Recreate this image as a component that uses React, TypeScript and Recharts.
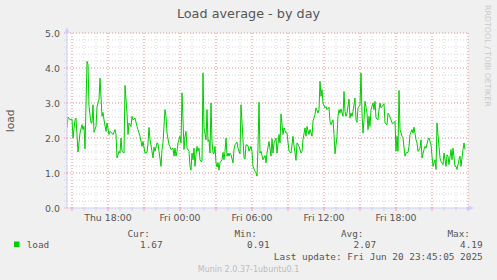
import React from 'react'
import { LineChart, Line, XAxis, YAxis, CartesianGrid, ReferenceLine } from 'recharts'

// sample time in minutes since Thu 00:00, one sample per row entry of load
const times = [
  875, 880, 890, 900, 905, 915, 920, 930, 940, 950,
  955, 960, 965, 975, 980, 985, 995, 1000, 1005, 1010,
  1020, 1025, 1030, 1035, 1040, 1050, 1055, 1060, 1070, 1075,
  1085, 1090, 1100, 1105, 1115, 1120, 1125, 1135, 1140, 1145,
  1150, 1160, 1165, 1175, 1180, 1185, 1195, 1200, 1205, 1215,
  1225, 1230, 1240, 1250, 1255, 1265, 1275, 1280, 1285, 1290,
  1300, 1305, 1310, 1315, 1325, 1330, 1335, 1345, 1350, 1355,
  1365, 1370, 1375, 1385, 1390, 1395, 1405, 1410, 1415, 1420,
  1425, 1430, 1440, 1445, 1450, 1455, 1460, 1465, 1470, 1475,
  1485, 1490, 1495, 1500, 1505, 1510, 1515, 1520, 1525, 1530,
  1535, 1540, 1545, 1550, 1555, 1560, 1570, 1575, 1580, 1585,
  1590, 1595, 1600, 1605, 1610, 1615, 1620, 1625, 1630, 1635,
  1640, 1650, 1655, 1660, 1665, 1670, 1675, 1680, 1685, 1690,
  1695, 1705, 1710, 1715, 1725, 1730, 1735, 1740, 1745, 1755,
  1760, 1765, 1770, 1780, 1785, 1795, 1800, 1805, 1815, 1820,
  1825, 1830, 1835, 1840, 1845, 1850, 1855, 1865, 1870, 1875,
  1885, 1895, 1900, 1905, 1910, 1920, 1925, 1935, 1940, 1945,
  1955, 1960, 1970, 1975, 1985, 1995, 2005, 2010, 2020, 2025,
  2035, 2045, 2050, 2055, 2065, 2070, 2075, 2085, 2090, 2100,
  2105, 2115, 2120, 2130, 2135, 2140, 2145, 2150, 2155, 2165,
  2170, 2175, 2185, 2190, 2195, 2205, 2210, 2215, 2225, 2230,
  2235, 2240, 2245, 2255, 2260, 2265, 2270, 2275, 2285, 2290,
  2295, 2300, 2305, 2315, 2320, 2325, 2330, 2340, 2345, 2350,
  2355, 2360, 2365, 2375, 2380, 2385, 2390, 2395, 2405, 2410,
  2415, 2420, 2430, 2435, 2440, 2445, 2450, 2460, 2465, 2475,
  2480, 2485, 2495, 2500, 2505, 2515, 2520, 2525, 2530, 2535,
  2540, 2550, 2555, 2565, 2570, 2580, 2585, 2590, 2600, 2605,
  2610, 2620, 2625, 2630, 2640, 2645, 2650, 2660, 2665, 2670,
  2680, 2685, 2695, 2700, 2705, 2715, 2720, 2725, 2735, 2740,
  2745, 2755, 2760, 2765, 2770, 2775, 2780, 2785, 2795, 2800,
  2805, 2815, 2820, 2825, 2835, 2840, 2845, 2855, 2860, 2865,
]

const load = [
  2.29, 2.60, 2.52, 2.54, 2.00, 2.52, 2.57, 1.60, 2.14, 2.38,
  2.24, 2.33, 1.69, 4.19, 4.10, 2.90, 2.43, 2.43, 2.95, 2.16,
  2.33, 2.89, 3.00, 3.10, 3.71, 2.62, 2.73, 2.52, 2.19, 2.43,
  2.10, 2.19, 2.14, 2.10, 2.24, 2.10, 1.43, 1.62, 1.57, 2.00,
  1.62, 1.57, 3.50, 2.71, 2.10, 2.43, 2.33, 2.62, 2.52, 2.57,
  2.33, 2.24, 2.05, 1.76, 1.90, 1.57, 1.59, 1.86, 2.30, 1.95,
  1.62, 1.43, 1.74, 1.62, 1.86, 1.84, 1.62, 1.19, 1.67, 1.88,
  2.81, 2.62, 2.14, 1.81, 1.76, 1.67, 1.71, 1.48, 1.71, 1.48,
  1.62, 1.86, 2.05, 1.86, 3.29, 2.52, 1.67, 2.05, 2.19, 1.71,
  1.62, 1.19, 1.08, 1.57, 1.38, 1.71, 1.19, 1.52, 1.76, 1.62,
  1.71, 1.38, 1.33, 1.33, 3.86, 2.29, 1.95, 2.81, 1.90, 1.95,
  1.57, 3.00, 1.90, 1.57, 1.55, 1.76, 1.29, 1.17, 1.30, 1.08,
  1.29, 1.38, 1.59, 1.38, 1.62, 2.00, 1.48, 1.57, 1.48, 1.57,
  1.52, 1.29, 1.67, 1.81, 1.88, 1.71, 1.62, 1.55, 2.95, 1.95,
  1.45, 1.40, 1.81, 1.78, 1.62, 1.76, 1.62, 1.19, 1.05, 1.00,
  0.91, 1.76, 3.02, 1.57, 1.62, 1.50, 1.38, 1.50, 1.29, 1.57,
  1.90, 1.48, 1.98, 1.57, 1.86, 2.00, 1.57, 2.10, 1.86, 2.69,
  2.10, 2.29, 2.14, 2.14, 1.62, 1.57, 2.05, 1.78, 1.36, 1.86,
  1.76, 1.57, 1.62, 1.95, 2.29, 2.05, 2.33, 2.10, 2.24, 2.05,
  2.48, 2.67, 2.86, 2.71, 2.81, 3.62, 3.19, 3.38, 3.00, 2.86,
  2.90, 2.81, 2.88, 2.48, 2.38, 2.52, 2.10, 1.55, 2.05, 2.62,
  2.81, 2.71, 2.83, 2.62, 3.33, 2.76, 2.62, 2.71, 3.11, 2.57,
  2.71, 2.62, 2.76, 3.14, 2.52, 2.45, 2.86, 2.95, 3.86, 2.71,
  2.14, 2.52, 3.05, 2.71, 2.24, 2.62, 2.33, 2.81, 3.00, 2.81,
  3.05, 2.57, 2.52, 2.81, 3.00, 2.86, 2.90, 2.98, 2.43, 2.38,
  2.71, 2.67, 2.52, 2.43, 2.41, 2.48, 1.62, 2.05, 1.62, 3.36,
  2.24, 2.05, 2.00, 1.48, 1.57, 1.59, 1.76, 2.10, 2.24, 2.14,
  2.31, 1.95, 1.86, 1.62, 1.71, 1.95, 1.43, 1.67, 1.76, 1.71,
  1.95, 2.00, 1.81, 1.48, 1.19, 1.38, 1.10, 2.43, 1.76, 1.43,
  1.33, 1.24, 1.57, 1.38, 1.19, 1.52, 1.48, 1.24, 1.67, 1.38,
  1.71, 1.19, 1.19, 1.10, 1.38, 1.48, 1.19, 1.67, 1.86, 1.67,
]

const xTicks = [
  900, 960, 1020, 1080, 1140, 1200, 1260, 1320, 1380, 1440, 1500, 1560,
  1620, 1680, 1740, 1800, 1860, 1920, 1980, 2040, 2100, 2160, 2220, 2280,
  2340, 2400, 2460, 2520, 2580, 2640, 2700, 2760, 2820, 2880,
]
const xMajor = [900, 1080, 1260, 1440, 1620, 1800, 1980, 2160, 2340, 2520, 2700, 2880]
const xLabels: Record<number, string> = {
  1080: 'Thu 18:00',
  1440: 'Fri 00:00',
  1800: 'Fri 06:00',
  2160: 'Fri 12:00',
  2520: 'Fri 18:00',
}

const yTicks = [
  0, 0.2, 0.4, 0.6, 0.8, 1, 1.2, 1.4, 1.6, 1.8, 2, 2.2, 2.4,
  2.6, 2.8, 3, 3.2, 3.4, 3.6, 3.8, 4, 4.2, 4.4, 4.6, 4.8, 5,
]
const yMajor = [1, 2, 3, 4, 5]

const statLabels = ['Cur:', 'Min:', 'Avg:', 'Max:']
const statValues = ['1.67', '0.91', '2.07', '4.19']

const data = times.map((t, i) => ({ t, load: load[i] }))

const SANS = '"DejaVu Sans", sans-serif'
const MONO = '"DejaVu Sans Mono", monospace'
const TXT = '#555'
const GREEN = '#00cc00'
const AXIS = '#cfcfff'
const RED = '#f2a0a0'
const GRAY = '#d6d6d6'

const XTick = (props: any) => {
  const { x, y, payload } = props
  const v = payload.value
  const major = v % 180 === 0
  const label = xLabels[v]
  return (
    <g>
      <line x1={x} x2={x} y1={y - 1} y2={y + 3} stroke={major ? RED : GRAY} />
      {label && (
        <text x={x} y={y + 9} textAnchor="middle" dominantBaseline="central"
          fontFamily={SANS} fontSize={9.4} fill={TXT}>{label}</text>
      )}
    </g>
  )
}

const YTick = (props: any) => {
  const { x, y, payload } = props
  const v = payload.value
  const major = Math.abs(v - Math.round(v)) < 0.001
  return (
    <g>
      <line x1={x - 3} x2={x} y1={y} y2={y} stroke={major ? RED : GRAY} strokeDasharray="1 1" />
      {major && (
        <text x={x - 7} y={y} textAnchor="end" dominantBaseline="central"
          fontFamily={SANS} fontSize={9.4} fill={TXT}>{v.toFixed(1)}</text>
      )}
    </g>
  )
}

export default function App() {
  const statEnds = [150, 257, 363.5, 470]
  return (
    <div style={{ position: 'relative', width: 497, height: 280, background: '#f0f0f0' }}>
      <style>{`body{margin:0;background:#f0f0f0}`}</style>
      <LineChart width={497} height={280} data={data}
        margin={{ top: 33, right: 29, left: 0, bottom: 0 }}>
        <CartesianGrid fill="#ffffff" stroke={GRAY} strokeDasharray="1 2" />
        {xMajor.map((v) => (
          <ReferenceLine key={'x' + v} x={v} stroke={RED} strokeDasharray="1 2" />
        ))}
        {yMajor.map((v) => (
          <ReferenceLine key={'y' + v} y={v} stroke={RED} strokeDasharray="1 2" />
        ))}
        <XAxis dataKey="t" type="number" domain={[875, 2880]} ticks={xTicks} interval={0}
          allowDataOverflow height={72} tickLine={false} tickSize={0} tickMargin={0}
          axisLine={{ stroke: AXIS }} tick={<XTick />} />
        <YAxis type="number" domain={[0, 5]} ticks={yTicks} interval={0} width={67}
          allowDataOverflow tickLine={false} tickSize={0} tickMargin={0}
          axisLine={{ stroke: AXIS }} tick={<YTick />} />
        <Line type="linear" dataKey="load" stroke={GREEN} strokeWidth={1} dot={false}
          isAnimationActive={false} />
      </LineChart>
      <svg width={497} height={280} style={{ position: 'absolute', left: 0, top: 0, pointerEvents: 'none' }}>
        <text x={248.5} y={13.5} textAnchor="middle" dominantBaseline="central"
          fontFamily={SANS} fontSize={12.8} fill={TXT}>Load average - by day</text>
        <text x={10.5} y={120.8} textAnchor="middle" dominantBaseline="central"
          transform="rotate(-90 10.5 120.8)" fontFamily={SANS} fontSize={10.7} fill={TXT}>load</text>
        <text x={487} y={5} dominantBaseline="central" transform="rotate(90 487 5)"
          fontFamily={SANS} fontSize={7.9} fill="#c8c8c8">RRDTOOL / TOBI OETIKER</text>
        <polygon points="64.5,33 67,27 69.5,33" fill={AXIS} />
        <polygon points="468,205.5 474,208 468,210.5" fill={AXIS} />
        <line x1={468} x2={469} y1={208} y2={208} stroke={AXIS} />
        <rect x={14} y={241.5} width={5.5} height={5.5} fill={GREEN} />
        <text x={26.7} y={244.3} dominantBaseline="central" fontFamily={MONO} fontSize={9.4} fill={TXT}>load</text>
        {statLabels.map((s, i) => (
          <text key={s} x={statEnds[i]} y={233.3} textAnchor="end" dominantBaseline="central"
            fontFamily={MONO} fontSize={9.4} fill={TXT}>{s}</text>
        ))}
        {statValues.map((s, i) => (
          <text key={'v' + i} x={statEnds[i] + 12.6} y={244.3} textAnchor="end" dominantBaseline="central"
            fontFamily={MONO} fontSize={9.4} fill={TXT}>{s}</text>
        ))}
        <text x={482.7} y={256.5} textAnchor="end" dominantBaseline="central"
          fontFamily={MONO} fontSize={9.4} fill={TXT}>Last update: Fri Jun 20 23:45:05 2025</text>
        <text x={248.5} y={269.5} textAnchor="middle" dominantBaseline="central"
          fontFamily={SANS} fontSize={8} fill="#bdbdbd">Munin 2.0.37-1ubuntu0.1</text>
      </svg>
    </div>
  )
}
